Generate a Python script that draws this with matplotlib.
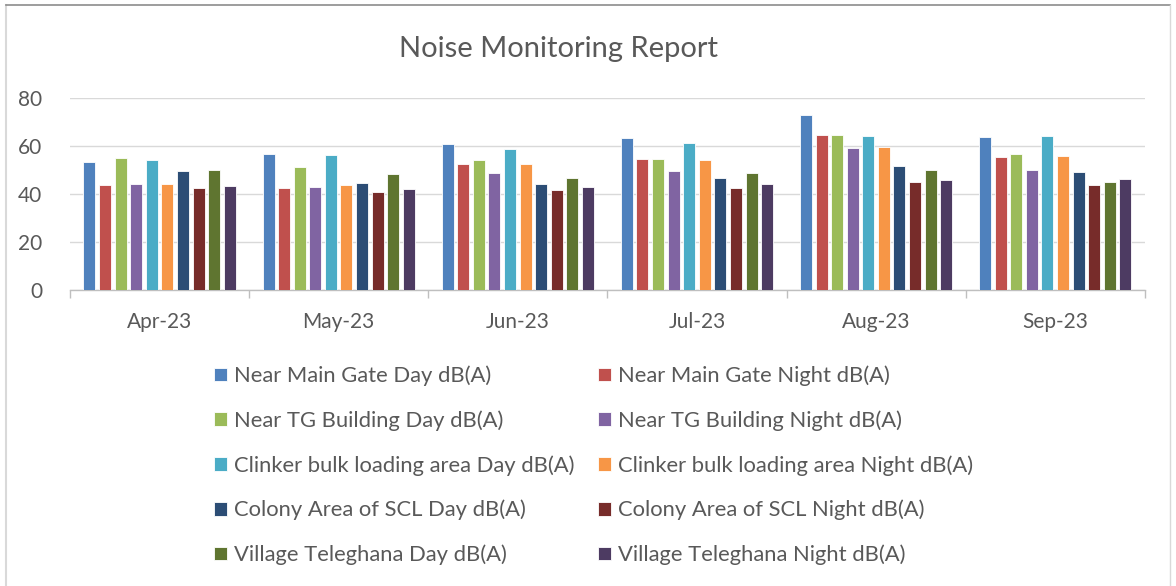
import numpy as np
import matplotlib.pyplot as plt
from matplotlib.lines import Line2D

plt.rcParams['font.family'] = ['Lato', 'DejaVu Sans']

# Data
months = ['Apr-23', 'May-23', 'Jun-23', 'Jul-23', 'Aug-23', 'Sep-23']
series = [
    'Near Main Gate Day dB(A)', 'Near Main Gate Night dB(A)',
    'Near TG Building Day dB(A)', 'Near TG Building Night dB(A)',
    'Clinker bulk loading area Day dB(A)', 'Clinker bulk loading area Night dB(A)',
    'Colony Area of SCL Day dB(A)', 'Colony Area of SCL Night dB(A)',
    'Village Teleghana Day dB(A)', 'Village Teleghana Night dB(A)',
]
main_gate_day = [53.3, 56.8, 60.7, 63.3, 72.8, 63.9]
main_gate_night = [43.6, 42.5, 52.5, 54.6, 64.6, 55.3]
tg_day = [55.1, 51.1, 54.2, 54.4, 64.6, 56.8]
tg_night = [44.3, 43.1, 48.9, 49.4, 59.2, 50.1]
clinker_day = [54.3, 56.4, 58.9, 61.2, 64.2, 64.2]
clinker_night = [44.0, 43.7, 52.6, 54.2, 59.6, 56.0]
colony_day = [49.7, 44.6, 44.3, 46.7, 51.7, 49.0]
colony_night = [42.6, 41.0, 41.5, 42.6, 45.0, 43.7]
village_day = [50.1, 48.5, 46.8, 48.9, 49.9, 44.9]
village_night = [43.5, 42.1, 42.8, 44.2, 45.7, 46.1]
values = [main_gate_day, main_gate_night, tg_day, tg_night, clinker_day,
          clinker_night, colony_day, colony_night, village_day, village_night]
colors = ['#4F81BD', '#C0504D', '#9BBB59', '#8064A2', '#4BACC6',
          '#F79646', '#2C4D75', '#772C2A', '#5F7530', '#4D3B62']

fig = plt.figure(figsize=(11.76, 5.86), dpi=100)
ax = fig.add_axes([0.0595, 0.505, 0.914, 0.328])

x = np.arange(len(months))
slot = 0.087
width = 0.067
bars = []
for i, (name, vals) in enumerate(zip(series, values)):
    offs = (i - 4.5) * slot
    b = ax.bar(x + offs, vals, width, color=colors[i], label=name,
               edgecolor='white', linewidth=0.6, zorder=3)
    bars.append(b)

ax.set_xlim(-0.5, len(months) - 0.5)
ax.set_ylim(0, 80)
ax.set_yticks([0, 20, 40, 60, 80])
ax.set_xticks(x)
ax.set_xticklabels(months)
ax.set_xticks(np.arange(-0.5, len(months)), minor=True)
ax.tick_params(axis='x', which='major', length=0, pad=16, labelsize=15, colors='#595959')
ax.tick_params(axis='x', which='minor', length=6, color='#bfbfbf', width=1)
ax.tick_params(axis='y', length=0, pad=20, labelsize=15, colors='#595959')
ax.grid(axis='y', color='#d9d9d9', linewidth=1, zorder=0)
for s in ['top', 'right', 'left']:
    ax.spines[s].set_visible(False)
ax.spines['bottom'].set_color('#bfbfbf')
ax.spines['bottom'].set_linewidth(1)

fig.text(0.475, 0.917, 'Noise Monitoring Report', ha='center', va='center',
         fontsize=21, color='#595959')

# legend fills row by row, two columns
order = [0, 2, 4, 6, 8, 1, 3, 5, 7, 9]
leg = fig.legend([bars[i] for i in order], [series[i] for i in order],
                 loc='upper left', bbox_to_anchor=(0.182, 0.376), ncol=2,
                 frameon=False, fontsize=15.8, handlelength=0.58, handleheight=0.58,
                 handletextpad=0.35, columnspacing=1.05, labelspacing=1.1,
                 borderaxespad=0, borderpad=0)
for t in leg.get_texts():
    t.set_color('#595959')

# chart frame
fig.add_artist(Line2D([0.0055, 0.0055], [0.0, 0.992], transform=fig.transFigure,
                      color='#d9d9d9', linewidth=1.5))
fig.add_artist(Line2D([0.0055, 0.995], [0.992, 0.992], transform=fig.transFigure,
                      color='#8c8c8c', linewidth=1.2))
fig.add_artist(Line2D([0.995, 0.995], [0.0, 0.992], transform=fig.transFigure,
                      color='#d9d9d9', linewidth=1))

fig.savefig('out.png', dpi=100)
